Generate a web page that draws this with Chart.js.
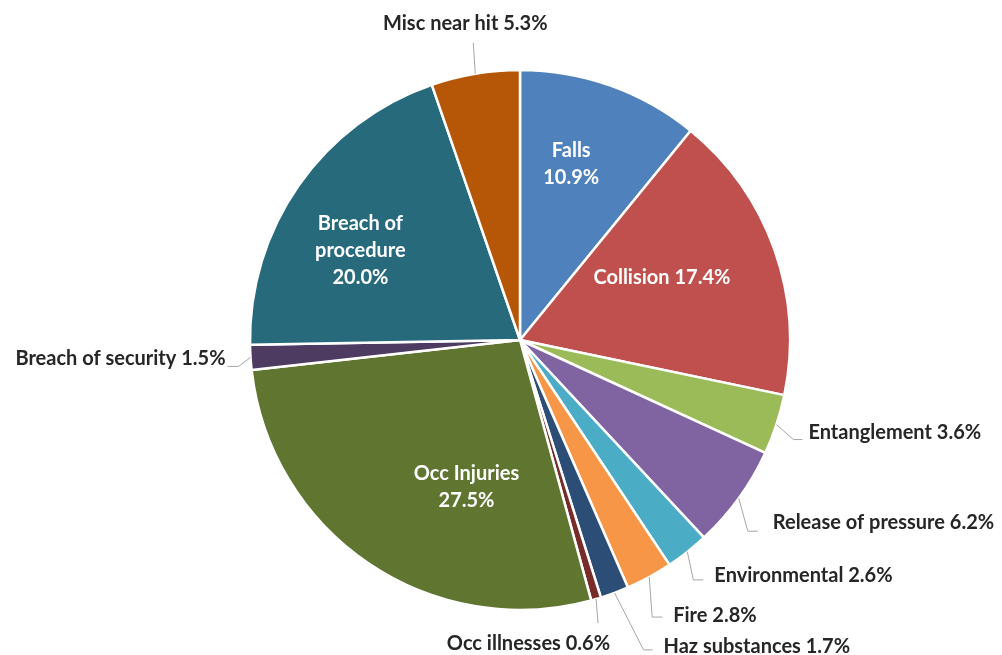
<!DOCTYPE html>
<html>
<head>
<meta charset="utf-8">
<script src="https://cdn.jsdelivr.net/npm/chart.js@4/dist/chart.umd.min.js"></script>
<style>
html,body{margin:0;padding:0;background:#fff;}
#wrap{width:1002px;height:655px;position:relative;}
</style>
</head>
<body>
<div id="wrap"><canvas id="c" width="1002" height="655"></canvas></div>
<script>
// ---- data ----
const categories = ["Falls","Collision","Entanglement","Release of pressure","Environmental","Fire","Haz substances","Occ illnesses","Occ Injuries","Breach of security","Breach of procedure","Misc near hit"];
const shares = [10.9,17.4,3.6,6.2,2.6,2.8,1.7,0.6,27.5,1.5,20.0,5.3];
const colors = ["#4F81BD","#C0504D","#9BBB59","#8064A2","#4BACC6","#F79646","#2C4D75","#772C2A","#5F7530","#4D3B62","#276A7C","#B65708"];
const labelLines = [["Falls","10.9%"],["Collision 17.4%"],["Entanglement 3.6%"],["Release of pressure 6.2%"],["Environmental 2.6%"],["Fire 2.8%"],["Haz substances 1.7%"],["Occ illnesses 0.6%"],["Occ Injuries","27.5%"],["Breach of security 1.5%"],["Breach of","procedure","20.0%"],["Misc near hit 5.3%"]];

// ---- label layout (style only) ----
const layout = [
  {inside:true, r:0.68, da:-3.4},
  {inside:true, r:0.574, da:-4.2},
  {ex:17, ey:15, tail:9, gap:6, ty:-7, align:'left'},
  {ex:9, ey:33, tail:10, gap:15, ty:-9, align:'left'},
  {ex:6, ey:28, tail:10, gap:11, ty:-4, align:'left'},
  {ex:3, ey:40, tail:10, gap:11, ty:-2, align:'left'},
  {ex:29, ey:57, tail:9, gap:11, ty:-3, align:'left'},
  {ex:2, ey:24, tail:0, gap:0, ty:20, align:'right', tx:12},
  {inside:true, r:0.58, da:-14.2},
  {ex:-12, ey:9, tail:-11, gap:-2, ty:-8, align:'right'},
  {inside:true, r:0.677, da:-5.8},
  {ex:-2, ey:-31, tail:0, gap:0, ty:-19, align:'center', tx:-8}
];

const FONT = "bold 20px Lato, 'Liberation Sans', sans-serif";
const LINE_H = 27;

const labelPlugin = {
  id:'pieLabels',
  afterDatasetsDraw(chart){
    const ctx = chart.ctx;
    const meta = chart.getDatasetMeta(0);
    ctx.save();
    ctx.font = FONT;
    ctx.textBaseline = 'middle';
    meta.data.forEach((arc, i) => {
      const L = layout[i];
      const cx = arc.x, cy = arc.y, R = arc.outerRadius;
      const mid = (arc.startAngle + arc.endAngle) / 2;
      const lines = labelLines[i];
      if (L.inside) {
        const a = mid + L.da * Math.PI / 180;
        const px = cx + Math.cos(a) * R * L.r;
        const py = cy + Math.sin(a) * R * L.r;
        ctx.fillStyle = '#ffffff';
        ctx.textAlign = 'center';
        const n = lines.length;
        lines.forEach((t, k) => {
          ctx.fillText(t, px, py + (k - (n - 1) / 2) * LINE_H);
        });
      } else {
        const sx = cx + Math.cos(mid) * R;
        const sy = cy + Math.sin(mid) * R;
        const exx = sx + L.ex, eyy = sy + L.ey;
        const endx = exx + L.tail;
        ctx.strokeStyle = '#A6A6A6';
        ctx.lineWidth = 1;
        ctx.beginPath();
        ctx.moveTo(sx, sy);
        ctx.lineTo(exx, eyy);
        if (L.tail) ctx.lineTo(endx, eyy);
        ctx.stroke();
        ctx.fillStyle = '#262626';
        ctx.textAlign = L.align;
        const tx = endx + L.gap + (L.tx || 0);
        ctx.fillText(lines[0], tx, eyy + L.ty);
      }
    });
    ctx.restore();
  }
};

new Chart(document.getElementById('c'), {
  type:'pie',
  data:{
    labels: categories,
    datasets:[{
      data: shares,
      backgroundColor: colors,
      borderColor:'#ffffff',
      borderWidth:2.5,
      hoverOffset:0,
      radius:270
    }]
  },
  options:{
    responsive:false,
    animation:false,
    events:[],
    layout:{padding:{left:60,right:22,top:65,bottom:40}},
    plugins:{legend:{display:false},tooltip:{enabled:false}}
  },
  plugins:[labelPlugin]
});
</script>
</body>
</html>
